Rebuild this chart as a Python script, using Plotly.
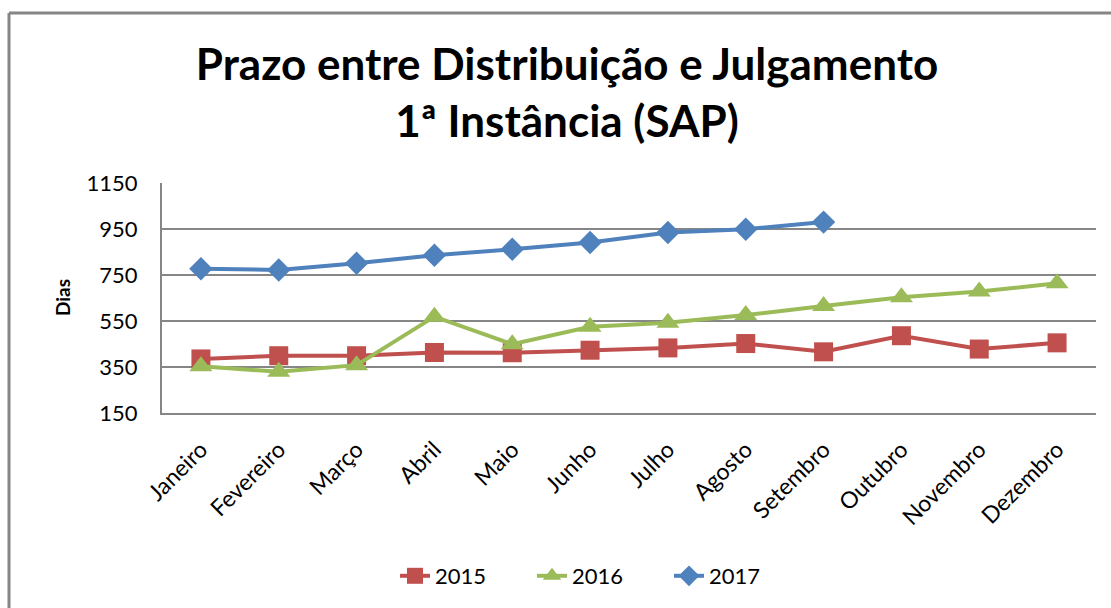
import plotly.graph_objects as go

months = ["Janeiro", "Fevereiro", "Março", "Abril", "Maio", "Junho", "Julho",
          "Agosto", "Setembro", "Outubro", "Novembro", "Dezembro"]
v2015 = [385, 399, 399, 413, 412, 423, 433, 452, 416, 486, 428, 455]
v2016 = [353, 329, 358, 569, 449, 525, 542, 576, 615, 653, 678, 714]
v2017 = [777, 772, 801, 836, 862, 891, 935, 949, 980]
y_ticks = [150, 350, 550, 750, 950, 1150]

FONT = "Lato"
fig = go.Figure()
fig.add_trace(go.Scatter(x=months, y=v2015, name="2015", mode="lines+markers",
                         line=dict(color="#C0504D", width=4),
                         marker=dict(symbol="square", size=19, color="#C0504D")))
fig.add_trace(go.Scatter(x=months, y=v2016, name="2016", mode="lines+markers",
                         line=dict(color="#9BBB59", width=4),
                         marker=dict(symbol="triangle-up", size=20, color="#9BBB59")))
fig.add_trace(go.Scatter(x=months[:len(v2017)], y=v2017, name="2017", mode="lines+markers",
                         line=dict(color="#4F81BD", width=4),
                         marker=dict(symbol="diamond", size=18, color="#4F81BD")))

L, R, T, B = 162, 15, 183, 195
W, H = 1111, 608
pw, ph = W - L - R, H - T - B

def px(x):
    return (x - L) / pw

def py(y):
    return (H - B - y) / ph

fig.update_layout(
    width=W, height=H,
    margin=dict(l=L, r=R, t=T, b=B),
    paper_bgcolor="white", plot_bgcolor="white",
    font=dict(family=FONT, color="#000000"),
    title=dict(text="<b>Prazo entre Distribuição e Julgamento<br>1ª Instância (SAP)</b>",
               x=567 / W, xanchor="center", xref="container",
               y=1 - 80 / H, yanchor="middle", yref="container",
               font=dict(size=44, family=FONT, color="#000000")),
    showlegend=True,
    legend=dict(orientation="h", x=395 / W, xanchor="left", xref="container",
                y=1 - 576 / H, yanchor="middle", yref="container",
                font=dict(size=22, family=FONT), entrywidth=92, entrywidthmode="pixels"),
    xaxis=dict(type="category", range=[-0.5, len(months) - 0.5], showgrid=False,
               showline=True, linecolor="#868686",
               linewidth=2, tickangle=-45, tickfont=dict(size=23, family=FONT),
               ticks="", ticklabelstandoff=12, fixedrange=True),
    yaxis=dict(range=[150, 1150], tickvals=y_ticks, showgrid=True, gridcolor="#868686",
               gridwidth=2, showline=True, linecolor="#868686", linewidth=2,
               tickfont=dict(size=22, family=FONT), ticks="", ticklabelstandoff=18,
               zeroline=False, fixedrange=True),
    annotations=[dict(text="<b>Dias</b>", x=px(62), y=0.5, xref="paper", yref="paper",
                      textangle=-90, showarrow=False, font=dict(size=19, family=FONT),
                      xanchor="center", yanchor="middle")],
    shapes=[
        dict(type="line", xref="paper", yref="paper", x0=px(9), x1=px(W + 5),
             y0=py(13), y1=py(13), line=dict(color="#868686", width=3)),
        dict(type="line", xref="paper", yref="paper", x0=px(9), x1=px(9),
             y0=py(13), y1=py(H + 5), line=dict(color="#868686", width=3)),
    ],
)

fig.write_html("out.html", config={"displayModeBar": False},
               post_script="document.body.style.margin='0';")
